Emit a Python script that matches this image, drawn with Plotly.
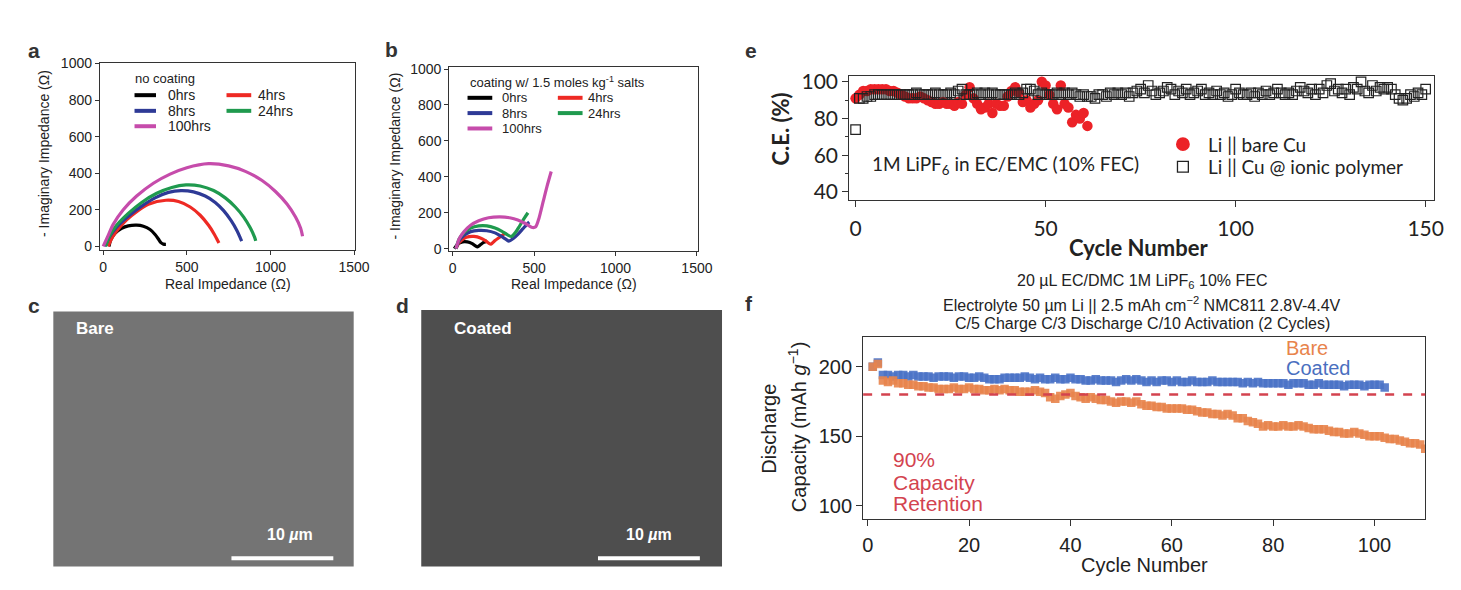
import plotly.graph_objects as go

# ---------------- data ----------------
# panel a: impedance, no coating (real, -imag in ohm)
a_0hrs_x = [35, 45, 70, 110, 150, 200, 240, 280, 310, 330, 345, 360, 375]
a_0hrs_y = [0, 35, 70, 98, 112, 116, 110, 92, 65, 40, 20, 12, 11]
a_4hrs_x = [30, 55, 90, 140, 200, 270, 375, 450, 520, 580, 630, 665, 685, 692]
a_4hrs_y = [0, 50, 95, 145, 190, 230, 252, 245, 215, 170, 115, 65, 30, 18]
a_8hrs_x = [10, 40, 80, 150, 230, 310, 390, 465, 540, 610, 670, 720, 765, 800, 820, 828]
a_8hrs_y = [0, 55, 105, 165, 220, 265, 295, 305, 298, 275, 240, 195, 140, 85, 45, 28]
a_24hrs_x = [15, 40, 80, 150, 230, 320, 410, 495, 580, 660, 730, 790, 840, 880, 905, 912]
a_24hrs_y = [0, 60, 115, 180, 240, 290, 322, 336, 330, 305, 265, 215, 160, 100, 50, 30]
a_100hrs_x = [0, 30, 60, 120, 200, 300, 400, 500, 630, 750, 850, 950, 1030, 1100, 1150, 1180, 1192]
a_100hrs_y = [0, 60, 120, 200, 275, 345, 395, 430, 452, 440, 410, 360, 300, 230, 160, 100, 55]

# panel b: impedance, coating w/ 1.5 mol/kg salts
b_0hrs_x = [10, 30, 60, 90, 120, 140, 152, 170, 190, 210]
b_0hrs_y = [0, 25, 38, 38, 28, 15, 10, 22, 35, 42]
b_4hrs_x = [20, 40, 70, 100, 130, 170, 205, 225, 235, 260, 290, 320]
b_4hrs_y = [0, 35, 58, 67, 68, 60, 42, 28, 25, 45, 65, 85]
b_8hrs_x = [20, 40, 70, 110, 160, 210, 260, 300, 330, 345, 370, 400, 430, 460, 470]
b_8hrs_y = [0, 45, 75, 95, 102, 100, 88, 68, 50, 42, 55, 80, 110, 140, 148]
b_24hrs_x = [20, 40, 70, 110, 160, 210, 260, 300, 335, 360, 385, 410, 440, 462]
b_24hrs_y = [0, 55, 90, 115, 127, 127, 115, 98, 78, 68, 90, 125, 170, 200]
b_100hrs_x = [20, 40, 70, 110, 160, 220, 290, 350, 400, 440, 470, 490, 510, 530, 555, 580, 605]
b_100hrs_y = [0, 55, 95, 130, 155, 172, 177, 172, 160, 143, 127, 118, 122, 170, 260, 350, 430]

hour_labels = ["0hrs", "4hrs", "8hrs", "24hrs", "100hrs"]
hour_colors = ["#000000", "#ee2a24", "#2e3a96", "#1f9a4e", "#c64cab"]

# panel e: coulombic efficiency (%)
e_bare_cycle = list(range(0, 62))
e_bare_ce = [91, 93, 95, 95, 96, 96, 96, 96, 96, 95,
             95, 94, 93, 92, 91, 91, 91, 92, 91, 90,
             89, 88, 88, 89, 88, 88, 87, 89, 88, 93,
             97, 91, 88, 85, 86, 88, 83, 88, 87, 87,
             92, 95, 97, 94, 89, 90, 86, 88, 90, 100,
             98, 93, 88, 85, 98, 88, 86, 78, 82, 80,
             83, 76]
e_poly_cycle = list(range(0, 151))
e_poly_ce = [74,
             91, 91, 92, 92, 93, 93, 93, 93, 93, 93,
             93, 93, 93, 93, 93, 94, 93, 93, 93, 93,
             94, 93, 93, 93, 94, 93, 95, 96, 93, 93,
             93, 94, 93, 94, 93, 94, 93, 93, 93, 93,
             93, 94, 93, 94, 96, 96, 95, 93, 94, 93,
             93, 93, 94, 93, 94, 93, 94, 93, 92, 93,
             92, 92, 91, 93, 93, 92, 94, 93, 94, 93,
             94, 92, 94, 95, 96, 94, 98, 95, 93, 94,
             95, 97, 96, 93, 95, 94, 96, 93, 94, 95,
             96, 93, 94, 93, 95, 93, 94, 92, 93, 96,
             94, 93, 93, 94, 92, 94, 93, 95, 93, 94,
             96, 94, 93, 94, 93, 95, 97, 95, 94, 96,
             93, 96, 94, 98, 99, 95, 96, 94, 96, 93,
             97, 96, 100, 95, 94, 98, 95, 97, 96, 97,
             96, 93, 91, 90, 91, 93, 92, 94, 93, 96]

# panel f: discharge capacity (mAh/g)
f_bare_cycle = list(range(1, 111))
f_bare_cap = [200, 202, 190, 189, 190, 188, 188, 187, 187, 186,
              186, 185, 185, 184, 184, 184, 185, 184, 184, 185,
              184, 184, 183, 183, 184, 183, 184, 183, 183, 182,
              182, 182, 183, 182, 181, 178, 177, 179, 180, 181,
              179, 178, 177, 178, 177, 176, 176, 175, 174, 175,
              175, 174, 175, 173, 172, 172, 171, 171, 170, 170,
              170, 170, 169, 169, 168, 167, 167, 166, 166, 165,
              166, 165, 163, 163, 161, 160, 159, 157, 158, 157,
              157, 158, 157, 157, 158, 157, 156, 155, 155, 155,
              154, 153, 153, 152, 152, 153, 152, 151, 150, 150,
              150, 149, 148, 148, 147, 146, 145, 145, 144, 141]
f_coated_cycle = list(range(1, 103))
f_coated_cap = [200, 203, 194, 194, 193, 194, 194, 193, 194, 193,
                193, 193, 192, 193, 193, 193, 192, 193, 193, 192,
                192, 193, 192, 191, 191, 191, 192, 192, 192, 192,
                193, 192, 191, 192, 191, 191, 192, 191, 191, 192,
                191, 191, 190, 190, 191, 190, 190, 190, 189, 190,
                191, 190, 191, 190, 189, 190, 189, 190, 190, 189,
                190, 189, 189, 190, 189, 189, 189, 190, 189, 189,
                189, 189, 189, 188, 189, 188, 189, 188, 188, 188,
                188, 188, 187, 188, 188, 188, 187, 187, 188, 187,
                187, 187, 187, 186, 187, 187, 187, 186, 187, 187,
                187, 185]
f_retention_level = 180

# ---------------- layout helpers ----------------
W, H = 1461, 590
ARIAL = "Liberation Sans, Arial, Helvetica, sans-serif"
LATO = "Lato, Liberation Sans, sans-serif"
AX = "#333333"


def px(x):
    return x / W


def py(y):
    return 1 - y / H


fig = go.Figure()

# panel a / b traces
a_sets = [(a_0hrs_x, a_0hrs_y), (a_4hrs_x, a_4hrs_y), (a_8hrs_x, a_8hrs_y),
          (a_24hrs_x, a_24hrs_y), (a_100hrs_x, a_100hrs_y)]
b_sets = [(b_0hrs_x, b_0hrs_y), (b_4hrs_x, b_4hrs_y), (b_8hrs_x, b_8hrs_y),
          (b_24hrs_x, b_24hrs_y), (b_100hrs_x, b_100hrs_y)]
for (xs, ys), c, lab in zip(a_sets, hour_colors, hour_labels):
    fig.add_trace(go.Scatter(x=xs, y=ys, mode="lines", name=lab,
                             line=dict(color=c, width=3.2, shape="spline", smoothing=0.8),
                             xaxis="x", yaxis="y", showlegend=False, hoverinfo="skip"))
for (xs, ys), c, lab in zip(b_sets, hour_colors, hour_labels):
    fig.add_trace(go.Scatter(x=xs, y=ys, mode="lines", name=lab,
                             line=dict(color=c, width=3.2, shape="spline", smoothing=0.7),
                             xaxis="x2", yaxis="y2", showlegend=False, hoverinfo="skip"))

# panel e traces
fig.add_trace(go.Scatter(x=e_bare_cycle, y=e_bare_ce, mode="markers", name="Li || bare Cu",
                         marker=dict(symbol="circle", size=10.5, color="#ec2227"),
                         xaxis="x3", yaxis="y3", showlegend=False, hoverinfo="skip"))
fig.add_trace(go.Scatter(x=e_poly_cycle, y=e_poly_ce, mode="markers", name="Li || Cu @ ionic polymer",
                         marker=dict(symbol="square-open", size=9.5, color="#222222",
                                     line=dict(width=1.2, color="#222222")),
                         xaxis="x3", yaxis="y3", showlegend=False, hoverinfo="skip"))

# panel f traces
fig.add_trace(go.Scatter(x=f_coated_cycle, y=f_coated_cap, mode="markers", name="Coated",
                         marker=dict(symbol="square", size=8.5, color="#4a72c6", opacity=0.9),
                         xaxis="x4", yaxis="y4", showlegend=False, hoverinfo="skip"))
fig.add_trace(go.Scatter(x=f_bare_cycle, y=f_bare_cap, mode="markers", name="Bare",
                         marker=dict(symbol="square", size=8.5, color="#e8844c", opacity=0.9),
                         xaxis="x4", yaxis="y4", showlegend=False, hoverinfo="skip"))


def axis(domain, rng, anchor, size, font=ARIAL, **kw):
    d = dict(domain=domain, range=rng, anchor=anchor, showline=True, mirror=True,
             linecolor=AX, linewidth=1.2, ticks="outside", ticklen=4, tickwidth=1.2,
             tickcolor=AX, showgrid=False, zeroline=False,
             tickfont=dict(family=font, size=size, color="#222222"))
    d.update(kw)
    return d


layout = dict(
    width=W, height=H, margin=dict(l=0, r=0, t=0, b=0),
    paper_bgcolor="white", plot_bgcolor="white", showlegend=False,
    xaxis=axis([px(100), px(358)], [-19.7, 1506], "y", 14, tickvals=[0, 500, 1000, 1500]),
    yaxis=axis([py(248.3), py(56.7)], [-21.4, 1005], "x", 14, tickvals=[0, 200, 400, 600, 800, 1000]),
    xaxis2=axis([px(453.3), px(704.3)], [-20.7, 1504], "y2", 14, tickvals=[0, 500, 1000, 1500]),
    yaxis2=axis([py(249.3), py(61.7)], [-14.2, 1009], "x2", 14, tickvals=[0, 200, 400, 600, 800, 1000]),
    xaxis3=axis([px(857.7), px(1448.5)], [-1.65, 152.1], "y3", 21, font=LATO,
                tickvals=[0, 50, 100, 150], ticklen=6, ticklabelstandoff=4),
    yaxis3=axis([py(196.7), py(70)], [35.8, 103.4], "x3", 21, font=LATO,
                tickvals=[40, 60, 80, 100], ticklen=6,
                minor=dict(tickvals=[50, 70, 90], ticks="outside", ticklen=3, tickcolor=AX)),
    xaxis4=axis([px(871.7), px(1440)], [-0.9, 110.0], "y4", 20,
                tickvals=[0, 20, 40, 60, 80, 100], ticklen=6, ticklabelstandoff=2),
    yaxis4=axis([py(523), py(337)], [90.3, 221.2], "x4", 20,
                tickvals=[100, 150, 200], ticklen=6),
)
fig.update_layout(**layout)

ann = []
shapes = []


def text(x, y, t, size, color="#222222", family=ARIAL, xanchor="center", angle=0, bold=False):
    ann.append(dict(x=px(x), y=py(y), xref="paper", yref="paper", text=t, showarrow=False,
                    xanchor=xanchor, yanchor="middle", textangle=angle,
                    font=dict(family=family, size=size, color=color,
                              weight=700 if bold else 400)))


# panel letters
for lx, ly, lt in [(33, 44, "a"), (395, 43, "b"), (33, 305, "c"), (406, 305, "d"),
                   (758, 44, "e"), (756, 303, "f")]:
    text(lx, ly, lt, 21, color="#333333", bold=True)

# axis titles a / b
text(43.5, 150, "- Imaginary Impedance (\u03a9)", 14, angle=-90)
text(230, 283, "Real Impedance (\u03a9)", 14)
text(398, 152, "- Imaginary Impedance (\u03a9)", 14, angle=-90)
text(579, 283, "Real Impedance (\u03a9)", 14)

# legends a / b (manual two-column layout)
text(133.3, 73.3, "no coating", 13, xanchor="left")
a_key_pos = [(135, 156.7, 166.7, 90), (228, 253, 258, 90), (135, 156.7, 166.7, 106),
             (228, 253, 258, 106), (135, 156.7, 166.7, 121.7)]
for (x0, x1, tx, yy), c, lab in zip(a_key_pos, hour_colors, hour_labels):
    shapes.append(dict(type="line", xref="paper", yref="paper", x0=px(x0), x1=px(x1),
                       y0=py(yy), y1=py(yy), line=dict(color=c, width=4)))
    text(tx, yy, lab, 14, xanchor="left")
text(471.7, 76.7, "coating w/ 1.5 moles kg<sup>-1</sup> salts", 13, xanchor="left")
b_key_pos = [(471.7, 496.7, 505, 92.7), (563, 588, 591.7, 92.7), (471.7, 496.7, 505, 108.3),
             (563, 588, 591.7, 108.3), (471.7, 496.7, 505, 124)]
for (x0, x1, tx, yy), c, lab in zip(b_key_pos, hour_colors, hour_labels):
    shapes.append(dict(type="line", xref="paper", yref="paper", x0=px(x0), x1=px(x1),
                       y0=py(yy), y1=py(yy), line=dict(color=c, width=4)))
    text(tx, yy, lab, 13, xanchor="left")

# panels c / d: SEM micrograph placeholders
shapes.append(dict(type="rect", xref="paper", yref="paper", x0=px(52.9), x1=px(356.6),
                   y0=py(571), y1=py(310.7), fillcolor="#747474", line=dict(width=0), layer="below"))
shapes.append(dict(type="rect", xref="paper", yref="paper", x0=px(424.9), x1=px(729),
                   y0=py(571), y1=py(309.3), fillcolor="#4e4e4e", line=dict(width=0), layer="below"))
for x0, x1 in [(233, 336), (603.6, 706.6)]:
    shapes.append(dict(type="line", xref="paper", yref="paper", x0=px(x0), x1=px(x1),
                       y0=py(562.7), y1=py(562.7), line=dict(color="white", width=4)))
text(74, 328, "Bare", 17, color="white", xanchor="left", bold=True)
text(456, 328, "Coated", 17, color="white", xanchor="left", bold=True)
text(292.5, 538, "10 <i>\u00b5</i>m", 16, color="white", bold=True)
text(655, 538, "10 <i>\u00b5</i>m", 16, color="white", bold=True)

# panel e texts
text(787.7, 125, "C.E. (%)", 22, family=LATO, angle=-90, bold=True)
text(1150, 246, "Cycle Number", 22, family=LATO, bold=True)
text(878.6, 161.7, "1M LiPF<sub>6</sub> in EC/EMC (10% FEC)", 19, family=LATO, xanchor="left")
shapes.append(dict(type="circle", xref="paper", yref="paper", x0=px(1188), x1=px(1202),
                   y0=py(147), y1=py(133), fillcolor="#ec2227", line=dict(width=0)))
shapes.append(dict(type="rect", xref="paper", yref="paper", x0=px(1189.5), x1=px(1200.5),
                   y0=py(168.5), y1=py(157.5), line=dict(color="#222222", width=1.3)))
text(1218, 140, "Li || bare Cu", 19, family=LATO, xanchor="left")
text(1218, 163.3, "Li || Cu @ ionic polymer", 19, family=LATO, xanchor="left")

# panel f texts
text(1154, 280.3, "20 \u00b5L EC/DMC 1M LiPF<sub>6</sub> 10% FEC", 16)
text(1154, 303.5, "Electrolyte 50 \u00b5m Li || 2.5 mAh cm<sup>\u22122</sup> NMC811 2.8V-4.4V", 16)
text(1154, 323.3, "C/5 Charge C/3 Discharge C/10 Activation (2 Cycles)", 16)
text(777, 430, "Discharge", 20, angle=-90)
text(804.7, 429, "Capacity (mAh <i>g</i><sup>\u22121</sup>)", 20, angle=-90)
text(1156, 570, "Cycle Number", 20)
text(1297, 348.5, "Bare", 20, color="#e8844c", xanchor="left")
text(1297, 368.5, "Coated", 20, color="#4a6fc0", xanchor="left")
text(900, 462, "90%", 21, color="#d3434f", xanchor="left")
text(900, 485, "Capacity", 21, color="#d3434f", xanchor="left")
text(900, 506.7, "Retention", 21, color="#d3434f", xanchor="left")
shapes.append(dict(type="line", xref="x4 domain", yref="y4", x0=0, x1=1,
                   y0=f_retention_level, y1=f_retention_level,
                   line=dict(color="#d3434f", width=2.5, dash="dash")))

fig.update_layout(annotations=ann, shapes=shapes)
fig.write_html("out.html", config={"displayModeBar": False},
               post_script="document.body.style.margin='0px';document.body.style.overflow='hidden';")
